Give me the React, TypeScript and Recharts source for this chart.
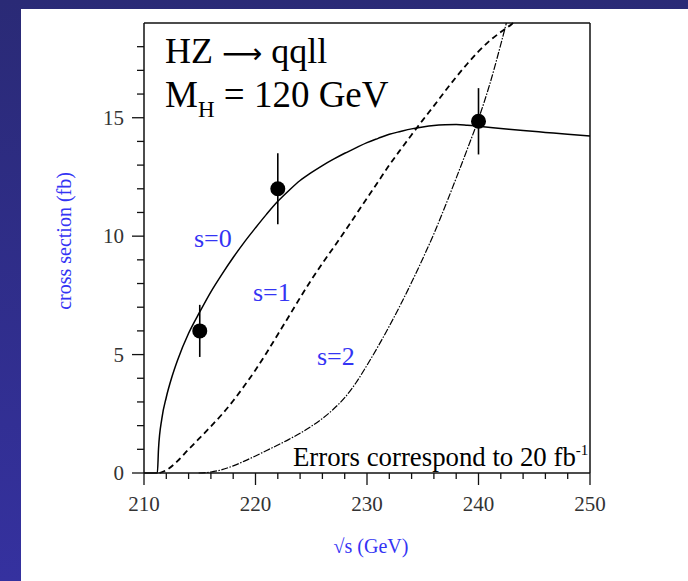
import React from "react";
import {
  ComposedChart,
  Line,
  Scatter,
  ErrorBar,
  XAxis,
  YAxis,
  ReferenceLine,
} from "recharts";

// sqrt(s) in GeV and cross sections in fb for the three spin hypotheses;
// s=1 and s=2 stop where they leave the frame at 19 fb
const energyS0 = [210, 211.2, 211.3, 211.6, 212, 212.5, 213, 214, 215, 216, 217, 218, 219, 220, 221, 222, 223, 224, 225, 226, 227, 228, 229, 230, 231, 232, 233, 234, 235, 236, 237, 238, 239, 240, 242, 244, 246, 248, 250];
const sigmaS0 = [0, 0, 1.0, 2.3, 3.2, 4.05, 4.75, 5.9, 6.8, 7.65, 8.4, 9.1, 9.75, 10.35, 10.93, 11.47, 11.93, 12.35, 12.68, 12.98, 13.25, 13.5, 13.73, 13.95, 14.13, 14.3, 14.42, 14.53, 14.61, 14.67, 14.7, 14.71, 14.68, 14.64, 14.55, 14.46, 14.38, 14.3, 14.23];

const energyS1 = [211.4, 212, 213, 214, 215, 216, 217, 218, 219, 220, 221, 222, 223, 224, 225, 226, 227, 228, 229, 230, 231, 232, 233, 234, 235, 236, 237, 238, 239, 240, 241, 242, 243, 243.1];
const sigmaS1 = [0, 0.12, 0.5, 1.0, 1.48, 1.97, 2.48, 3.05, 3.68, 4.35, 5.08, 5.85, 6.62, 7.4, 8.15, 8.85, 9.52, 10.2, 10.9, 11.6, 12.3, 13.0, 13.65, 14.28, 14.9, 15.5, 16.12, 16.72, 17.28, 17.8, 18.25, 18.62, 18.96, 19.0];

const energyS2 = [214.9, 216, 217, 218, 219, 220, 221, 222, 223, 224, 225, 226, 227, 228, 229, 230, 231, 232, 233, 234, 235, 236, 237, 238, 239, 240, 241, 242, 242.5];
const sigmaS2 = [0, 0.04, 0.14, 0.3, 0.5, 0.72, 0.95, 1.18, 1.42, 1.68, 1.97, 2.3, 2.7, 3.18, 3.8, 4.55, 5.35, 6.2, 7.1, 8.05, 9.05, 10.1, 11.25, 12.45, 13.68, 14.95, 16.4, 18.1, 19.0];

// simulated measurements, 20 fb^-1
const pointEnergy = [215, 222, 240];
const pointSigma = [6.0, 12.0, 14.85];
const pointError = [1.1, 1.5, 1.4];

const xTicks = [210, 212, 214, 216, 218, 220, 222, 224, 226, 228, 230, 232, 234, 236, 238, 240, 242, 244, 246, 248, 250];
const yTicks = [0, 1, 2, 3, 4, 5, 6, 7, 8, 9, 10, 11, 12, 13, 14, 15, 16, 17, 18];
const X_DOMAIN = [210, 250];
const Y_DOMAIN = [0, 19];

const zip = (xs: number[], ys: number[]) => xs.map((x, i) => ({ x, y: ys[i] }));

const s0 = zip(energyS0, sigmaS0);
const s1 = zip(energyS1, sigmaS1);
const s2 = zip(energyS2, sigmaS2);
const points = pointEnergy.map((x, i) => ({ x, y: pointSigma[i], err: pointError[i] }));

const W = 688;
const H = 581;
const MARGIN = { top: 23, right: 98, bottom: 48, left: 84 };
const Y_AXIS_W = 60;
const X_AXIS_H = 60;

// plot rectangle, shared by the chart and the tick overlay
const plotLeft = MARGIN.left + Y_AXIS_W;
const plotRight = W - MARGIN.right;
const plotTop = MARGIN.top;
const plotBottom = H - MARGIN.bottom - X_AXIS_H;
const toPx = (v: number) => plotLeft + ((v - X_DOMAIN[0]) / (X_DOMAIN[1] - X_DOMAIN[0])) * (plotRight - plotLeft);
const toPy = (v: number) => plotBottom - ((v - Y_DOMAIN[0]) / (Y_DOMAIN[1] - Y_DOMAIN[0])) * (plotBottom - plotTop);

const SERIF = '"Liberation Serif", "Times New Roman", serif';
const BLUE = "#3434f4";
const AXIS = "#111";

const XLabel = (props: any) => {
  const { x, y, payload } = props;
  if (payload.value % 10 !== 0) return <g />;
  return (
    <text x={x} y={y + 38} textAnchor="middle" fontFamily={SERIF} fontSize={21} fill="#333">
      {payload.value}
    </text>
  );
};

const YLabel = (props: any) => {
  const { x, y, payload } = props;
  if (payload.value % 5 !== 0) return <g />;
  return (
    <text x={x - 20} y={y + 7} textAnchor="end" fontFamily={SERIF} fontSize={21} fill="#333">
      {payload.value}
    </text>
  );
};

const Dot = (props: any) => <circle cx={props.cx} cy={props.cy} r={7.5} fill="#000" />;

export default function App() {
  return (
    <div style={{ position: "absolute", left: 0, top: 0, width: W, height: H, overflow: "hidden", background: "linear-gradient(#2a2a76, #35319f)" }}>
      <div style={{ position: "absolute", left: 21, top: 9, width: W - 21, height: H - 9, background: "#fff" }} />
      <div style={{ position: "absolute", left: 0, top: 0 }}>
        <ComposedChart width={W} height={H} margin={MARGIN}>
          <XAxis
            dataKey="x"
            type="number"
            domain={X_DOMAIN}
            ticks={xTicks}
            interval={0}
            height={X_AXIS_H}
            tickSize={0}
            tickMargin={0}
            tickLine={false}
            tick={(p: any) => <XLabel {...p} />}
            axisLine={{ stroke: AXIS, strokeWidth: 1.5 }}
          />
          <YAxis
            type="number"
            domain={Y_DOMAIN}
            ticks={yTicks}
            interval={0}
            width={Y_AXIS_W}
            tickSize={0}
            tickMargin={0}
            tickLine={false}
            tick={(p: any) => <YLabel {...p} />}
            axisLine={{ stroke: AXIS, strokeWidth: 1.5 }}
          />
          <ReferenceLine y={19} stroke={AXIS} strokeWidth={1.5} />
          <ReferenceLine x={250} stroke={AXIS} strokeWidth={1.5} />
          <Line data={s0} dataKey="y" type="monotone" stroke="#000" strokeWidth={1.5} dot={false} isAnimationActive={false} />
          <Line data={s1} dataKey="y" type="monotone" stroke="#000" strokeWidth={1.8} strokeDasharray="6 4" dot={false} isAnimationActive={false} />
          <Line data={s2} dataKey="y" type="monotone" stroke="#000" strokeWidth={1.2} strokeDasharray="7 1.5 1.5 1.5" dot={false} isAnimationActive={false} />
          <Scatter data={points} dataKey="y" shape={<Dot />} isAnimationActive={false}>
            <ErrorBar dataKey="err" direction="y" width={0} stroke="#000" strokeWidth={1.6} isAnimationActive={false} />
          </Scatter>
        </ComposedChart>
      </div>
      <svg width={W} height={H} style={{ position: "absolute", left: 0, top: 0, pointerEvents: "none" }}>
        {/* outward tick marks: 12px on labelled values, 6-7px otherwise */}
        <g stroke={AXIS} strokeWidth={1.3}>
          {xTicks.map((v) => (
            <line key={`xt${v}`} x1={toPx(v)} x2={toPx(v)} y1={plotBottom} y2={plotBottom + (v % 10 === 0 ? 12 : 6)} />
          ))}
          {yTicks.map((v) => (
            <line key={`yt${v}`} x1={plotLeft} x2={plotLeft - (v % 5 === 0 ? 12 : 7)} y1={toPy(v)} y2={toPy(v)} />
          ))}
        </g>
        <g fontFamily={SERIF} fill="#000">
          <text x={165} y={63} fontSize={36}>
            HZ <tspan fontFamily='"DejaVu Sans", sans-serif' fontSize={28}>⟶</tspan> qqll
          </text>
          <text x={165} y={107} fontSize={37}>
            M<tspan fontSize={23} dy={10}>H</tspan>
            <tspan dy={-10}> = 120 GeV</tspan>
          </text>
          <text x={293} y={466} fontSize={26.8}>
            Errors correspond to 20 fb<tspan fontSize={15} dy={-11}>-1</tspan>
          </text>
        </g>
        <g fontFamily={SERIF} fill={BLUE}>
          <text x={194} y={247} fontSize={26}>s=0</text>
          <text x={253} y={301} fontSize={26}>s=1</text>
          <text x={317} y={365} fontSize={26}>s=2</text>
          <text x={371} y={553} fontSize={20} textAnchor="middle">√s (GeV)</text>
          <text transform="translate(71,241) rotate(-90)" fontSize={20} textAnchor="middle">cross section (fb)</text>
        </g>
      </svg>
    </div>
  );
}
